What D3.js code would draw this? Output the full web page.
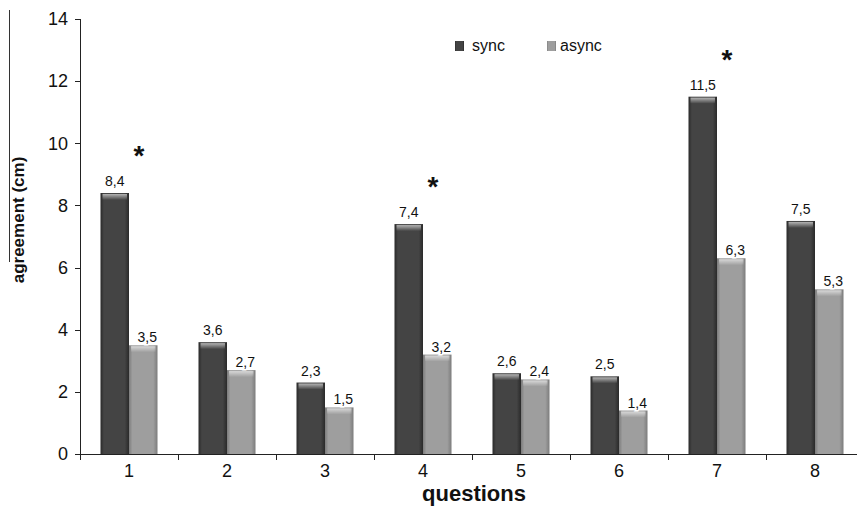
<!DOCTYPE html>
<html>
<head>
<meta charset="utf-8">
<script src="https://cdn.jsdelivr.net/npm/d3@7"></script>
<style>
  body { margin: 0; background: #fff; }
  svg { display: block; font-family: Arial, "Liberation Sans", sans-serif; }
  .axis path, .axis line { stroke: #222; shape-rendering: crispEdges; }
  .axis text { font-size: 18px; fill: #111; }
</style>
</head>
<body>
<div id="chart-area"></div>
<script>

// DATA

var questions = ["1", "2", "3", "4", "5", "6", "7", "8"];
var seriesNames = ["sync", "async"];
var syncValues = [8.4, 3.6, 2.3, 7.4, 2.6, 2.5, 11.5, 7.5];
var asyncValues = [3.5, 2.7, 1.5, 3.2, 2.4, 1.4, 6.3, 5.3];
var significant = ["1", "4", "7"];
var yTicks = [0, 2, 4, 6, 8, 10, 12, 14];

var data = questions.map(function(q, i) {
    return { q: q, sync: syncValues[i], async: asyncValues[i] };
});

// CHART AREA

var totalW = 857, totalH = 514;
var margin = {top: 19, right: -7, bottom: 60, left: 80},
    width = totalW - margin.left - margin.right,
    height = totalH - margin.top - margin.bottom;

var svg = d3.select("#chart-area").append("svg")
    .attr("width", totalW)
    .attr("height", totalH);

// gradients for the bevelled bars
var defs = svg.append("defs");
function barGradient(id, edge, mid) {
    var g = defs.append("linearGradient").attr("id", id)
        .attr("x1", "0%").attr("x2", "100%").attr("y1", "0%").attr("y2", "0%");
    g.append("stop").attr("offset", "0%").attr("stop-color", edge);
    g.append("stop").attr("offset", "12%").attr("stop-color", mid);
    g.append("stop").attr("offset", "85%").attr("stop-color", mid);
    g.append("stop").attr("offset", "100%").attr("stop-color", edge);
}
barGradient("grad-sync", "#2a2a2a", "#444");
barGradient("grad-async", "#7c7c7c", "#9e9e9e");

var topGrad = defs.append("linearGradient").attr("id", "grad-top")
    .attr("x1", "0%").attr("x2", "0%").attr("y1", "0%").attr("y2", "100%");
topGrad.append("stop").attr("offset", "0%").attr("stop-color", "#fff").attr("stop-opacity", 0.6);
topGrad.append("stop").attr("offset", "100%").attr("stop-color", "#fff").attr("stop-opacity", 0);

var colors = { sync: "url(#grad-sync)", async: "url(#grad-async)" };

var g = svg.append("g")
    .attr("transform", "translate(" + margin.left + "," + margin.top + ")");

// SCALES

var x0 = d3.scaleBand()
    .domain(questions)
    .range([0, 784]);

var x1 = d3.scaleBand()
    .domain(seriesNames)
    .range([20.5, x0.bandwidth() - 20.5]);

var y = d3.scaleLinear()
    .domain([0, 14])
    .range([height, 0]);

// BARS

var groups = g.selectAll(".grp")
    .data(data)
    .enter().append("g")
    .attr("class", "grp")
    .attr("transform", function(d) { return "translate(" + x0(d.q) + ",0)"; });

seriesNames.forEach(function(s) {
    groups.append("rect")
        .attr("x", x1(s))
        .attr("y", function(d) { return y(d[s]); })
        .attr("width", x1.bandwidth())
        .attr("height", function(d) { return height - y(d[s]); })
        .attr("fill", colors[s]);

    // top bevel highlight
    groups.append("rect")
        .attr("x", x1(s) + 2)
        .attr("y", function(d) { return y(d[s]) + 1; })
        .attr("width", x1.bandwidth() - 4)
        .attr("height", 6)
        .attr("fill", "url(#grad-top)");
});

// value labels
function fmt(v) { return String(v).replace(".", ","); }

groups.append("text")
    .attr("x", x1("sync") + x1.bandwidth() / 2)
    .attr("y", function(d) { return y(d.sync) - 7; })
    .attr("text-anchor", "middle")
    .style("font-size", "14px")
    .style("fill", "#111")
    .text(function(d) { return fmt(d.sync); });

groups.append("text")
    .attr("x", x1("async") + x1.bandwidth() / 2 + 4)
    .attr("y", function(d) { return y(d.async) - 3; })
    .attr("text-anchor", "middle")
    .style("font-size", "14px")
    .style("fill", "#111")
    .style("paint-order", "stroke")
    .style("stroke", "#fff")
    .style("stroke-width", "3px")
    .text(function(d) { return fmt(d.async); });

// significance asterisks
groups.filter(function(d) { return significant.indexOf(d.q) >= 0; })
    .append("text")
    .attr("x", x0.bandwidth() / 2 + 10)
    .attr("y", function(d) { return y(d.sync) - 28; })
    .attr("text-anchor", "middle")
    .style("font-size", "28px")
    .style("font-weight", "bold")
    .style("fill", "#111")
    .text("*");

// AXES

var xAxis = d3.axisBottom(x0).tickSize(0).tickPadding(10);
var yAxis = d3.axisLeft(y).tickValues(yTicks).tickSize(5).tickPadding(7);

var xg = g.append("g")
    .attr("class", "x-axis axis")
    .attr("transform", "translate(0," + height + ")")
    .call(xAxis);
xg.select(".domain").attr("d", "M0,0.5H784").style("stroke-width", 1.5);

// boundary ticks between categories
xg.selectAll(".sep")
    .data(questions)
    .enter().append("line")
    .attr("class", "sep")
    .attr("x1", function(d) { return Math.round(x0(d)) + 0.5; })
    .attr("x2", function(d) { return Math.round(x0(d)) + 0.5; })
    .attr("y1", 0).attr("y2", 6);

g.append("g")
    .attr("class", "y-axis axis")
    .call(yAxis);

// AXIS TITLES

svg.append("text")
    .attr("transform", "translate(24,220) rotate(-90)")
    .attr("text-anchor", "middle")
    .style("font-size", "17px")
    .style("font-weight", "bold")
    .style("fill", "#111")
    .text("agreement (cm)");

svg.append("text")
    .attr("x", 474)
    .attr("y", 501)
    .attr("text-anchor", "middle")
    .style("font-size", "22px")
    .style("font-weight", "bold")
    .style("fill", "#111")
    .text("questions");

// stray border line on the left of the original figure
svg.append("line")
    .attr("x1", 9.5).attr("x2", 9.5)
    .attr("y1", 10).attr("y2", 262)
    .style("stroke", "#333");

// LEGEND

var legendX = [455, 547];
var legend = svg.selectAll(".legend")
    .data(seriesNames)
    .enter().append("g")
    .attr("class", "legend")
    .attr("transform", function(d, i) { return "translate(" + legendX[i] + ",41)"; });

legend.append("rect")
    .attr("width", 9)
    .attr("height", 10)
    .attr("fill", function(d) { return colors[d]; });

legend.append("text")
    .attr("x", function(d, i) { return i === 0 ? 17 : 13; })
    .attr("y", 10)
    .style("font-size", "16px")
    .style("fill", "#111")
    .text(function(d) { return d; });

</script>
</body>
</html>
